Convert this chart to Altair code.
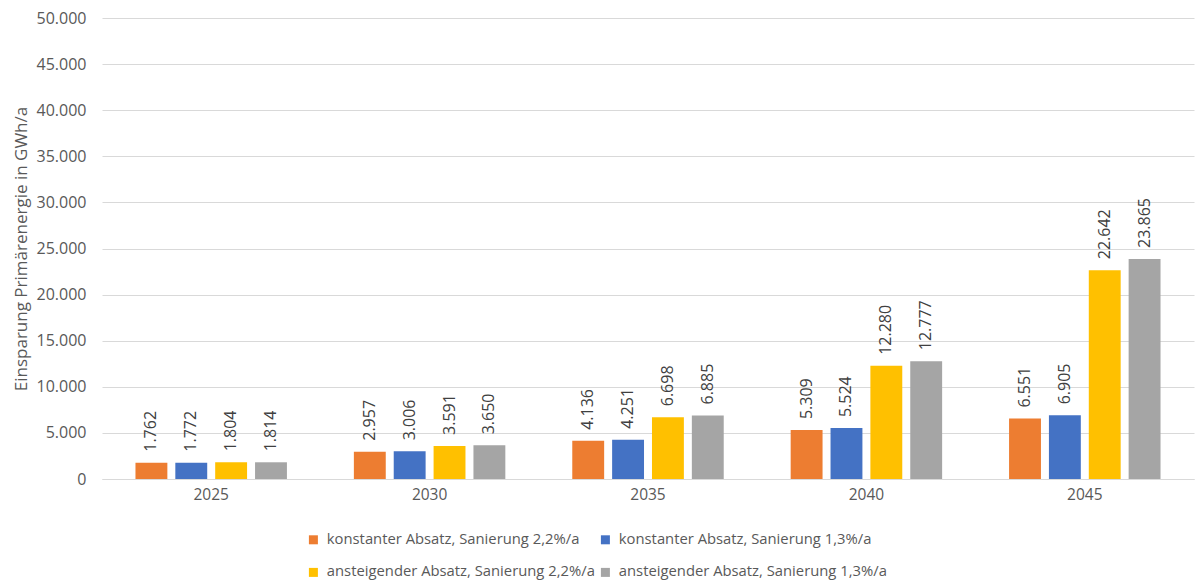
import altair as alt
import pandas as pd

years = ["2025", "2030", "2035", "2040", "2045"]
series = [
    "konstanter Absatz, Sanierung 2,2%/a",
    "konstanter Absatz, Sanierung 1,3%/a",
    "ansteigender Absatz, Sanierung 2,2%/a",
    "ansteigender Absatz, Sanierung 1,3%/a",
]
s1 = [1762, 2957, 4136, 5309, 6551]
s2 = [1772, 3006, 4251, 5524, 6905]
s3 = [1804, 3591, 6698, 12280, 22642]
s4 = [1814, 3650, 6885, 12777, 23865]
colors = ["#ED7D31", "#4472C4", "#FFC000", "#A5A5A5"]

rows = []
for name, vals in zip(series, [s1, s2, s3, s4]):
    for y, v in zip(years, vals):
        rows.append({"Jahr": y, "Szenario": name, "Wert": v})
df = pd.DataFrame(rows)

FONT = "Open Sans"
TXT = "#595959"

x = alt.X("Jahr:N", title=None,
          scale=alt.Scale(paddingInner=0.27, paddingOuter=0.135),
          axis=alt.Axis(labelAngle=0, ticks=False, domainColor="#d9d9d9",
                        labelColor=TXT, labelFontSize=15.5, labelFont=FONT,
                        labelPadding=8))
xo = alt.XOffset("Szenario:N", sort=series,
                 scale=alt.Scale(paddingInner=0.2, paddingOuter=0.1))

bars = alt.Chart(df).mark_bar().encode(
    x=x,
    xOffset=xo,
    y=alt.Y("Wert:Q", title="Einsparung Primärenergie in GWh/a",
            scale=alt.Scale(domain=[0, 50000]),
            axis=alt.Axis(values=list(range(0, 50001, 5000)),
                          labelExpr="replace(format(datum.value, ','), ',', '.')",
                          ticks=False, domain=False, gridColor="#d9d9d9",
                          labelColor=TXT, labelFontSize=16, labelFont=FONT,
                          labelPadding=16, titleColor=TXT, titleFontSize=17,
                          titleFont=FONT, titleFontWeight="normal",
                          titlePadding=6)),
    color=alt.Color("Szenario:N", sort=series,
                    scale=alt.Scale(domain=series, range=colors),
                    legend=alt.Legend(title=None, orient="none", legendX=204,
                                      legendY=514, columns=2, direction="horizontal",
                                      symbolType="square",
                                      symbolSize=81, labelFontSize=14.8,
                                      labelFont=FONT, labelColor=TXT,
                                      labelLimit=400, rowPadding=17,
                                      columnPadding=3, labelOffset=6,
                                      symbolStrokeWidth=0)),
)

labels = alt.Chart(df).transform_calculate(
    label="replace(format(datum.Wert, ','), ',', '.')"
).mark_text(angle=270, align="left", baseline="middle", dx=11,
            fontSize=16, font=FONT, color="#404040").encode(
    x=alt.X("Jahr:N"),
    xOffset=alt.XOffset("Szenario:N", sort=series),
    y=alt.Y("Wert:Q"),
    text="label:N",
)

chart = alt.layer(bars, labels).properties(
    width=1092, height=461,
    autosize=alt.AutoSizeParams(type="none"),
    padding={"left": 94, "top": 10, "right": 2, "bottom": 102},
).configure_view(stroke=None)

chart.save("out.html", embed_options={"renderer": "svg", "actions": False})
